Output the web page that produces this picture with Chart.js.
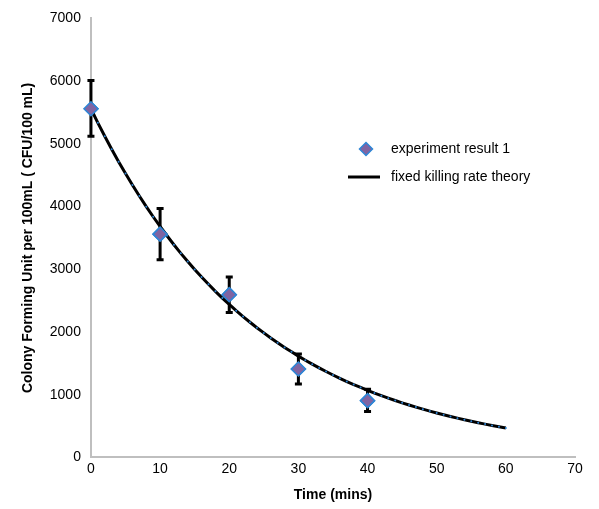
<!DOCTYPE html>
<html>
<head>
<meta charset="utf-8">
<script src="https://cdn.jsdelivr.net/npm/chart.js@4"></script>
<style>
  html, body { margin: 0; padding: 0; background: #fff; }
  #wrap { width: 599px; height: 509px; }
</style>
</head>
<body>
<div id="wrap"><canvas id="myChart" width="599" height="509"></canvas></div>
<script>
// measured points (time in mins, CFU/100 mL)
const expTimes = [0, 10, 20, 30, 40];
const expValues = [5560, 3560, 2595, 1410, 905];
const expErrLow = [5120, 3150, 2310, 1170, 730];
const expErrHigh = [6010, 3970, 2875, 1650, 1085];

// theory curve, one value per minute
const theoryTimes = [
  0, 1, 2, 3, 4, 5, 6, 7, 8, 9, 10, 11, 12, 13, 14, 15, 16, 17, 18, 19, 20,
  21, 22, 23, 24, 25, 26, 27, 28, 29, 30, 31, 32, 33, 34, 35, 36, 37, 38, 39, 40,
  41, 42, 43, 44, 45, 46, 47, 48, 49, 50, 51, 52, 53, 54, 55, 56, 57, 58, 59, 60
];
const theoryValues = [
  5560, 5335, 5120, 4913, 4715, 4525, 4342, 4167, 3998, 3837, 3682,
  3534, 3391, 3254, 3123, 2997, 2876, 2760, 2648, 2541, 2439,
  2340, 2246, 2155, 2068, 1985, 1904, 1828, 1754, 1683, 1615,
  1550, 1487, 1427, 1370, 1314, 1261, 1210, 1161, 1115, 1070,
  1026, 985, 945, 907, 870, 835, 802, 769, 738, 708,
  680, 652, 626, 601, 576, 553, 531, 509, 489, 469
];

const xTicks = [0, 10, 20, 30, 40, 50, 60, 70];
const yTicks = [0, 1000, 2000, 3000, 4000, 5000, 6000, 7000];
const seriesNames = ['experiment result 1', 'fixed killing rate theory'];

const FONT = 'Liberation Sans, Arial, sans-serif';

// error bars drawn through the scales
const errorBars = {
  id: 'errorBars',
  afterDatasetsDraw(chart) {
    const ctx = chart.ctx;
    const xs = chart.scales.x, ys = chart.scales.y;
    ctx.save();
    ctx.strokeStyle = '#000';
    ctx.lineWidth = 3;
    expTimes.forEach((t, i) => {
      const px = xs.getPixelForValue(t);
      const top = ys.getPixelForValue(expErrHigh[i]);
      const bot = ys.getPixelForValue(expErrLow[i]);
      ctx.beginPath();
      ctx.moveTo(px, top); ctx.lineTo(px, bot);
      ctx.moveTo(px - 3.5, top); ctx.lineTo(px + 3.5, top);
      ctx.moveTo(px - 3.5, bot); ctx.lineTo(px + 3.5, bot);
      ctx.stroke();
    });
    ctx.restore();
    // redraw markers on top of bars
    const meta = chart.getDatasetMeta(1);
    meta.data.forEach(el => el.draw(ctx));
  }
};

// legend inside the plot
const innerLegend = {
  id: 'innerLegend',
  afterDraw(chart) {
    const ctx = chart.ctx;
    ctx.save();
    ctx.font = '14px ' + FONT;
    ctx.fillStyle = '#000';
    ctx.textBaseline = 'middle';
    // diamond
    const dx = 366, dy = 149;
    ctx.beginPath();
    ctx.moveTo(dx, dy - 6.5); ctx.lineTo(dx + 6.5, dy); ctx.lineTo(dx, dy + 6.5); ctx.lineTo(dx - 6.5, dy); ctx.closePath();
    ctx.fillStyle = '#8064A2';
    ctx.fill();
    ctx.strokeStyle = '#2E86D6';
    ctx.lineWidth = 1.5;
    ctx.stroke();
    ctx.fillStyle = '#000';
    ctx.fillText(seriesNames[0], 391, dy);
    // line
    const ly = 177;
    ctx.beginPath();
    ctx.moveTo(348, ly); ctx.lineTo(380, ly);
    ctx.strokeStyle = '#000';
    ctx.lineWidth = 3;
    ctx.stroke();
    ctx.fillText(seriesNames[1], 391, ly);
    ctx.restore();
  }
};

const ctx = document.getElementById('myChart').getContext('2d');
const myChart = new Chart(ctx, {
  type: 'scatter',
  data: {
    datasets: [
      {
        label: seriesNames[1],
        type: 'line',
        data: theoryTimes.map((t, i) => ({ x: t, y: theoryValues[i] })),
        borderColor: '#000',
        borderWidth: 3,
        pointRadius: 1,
        pointBackgroundColor: '#2E86D6',
        pointBorderWidth: 0,
        showLine: true,
        fill: false,
        tension: 0
      },
      {
        label: seriesNames[0],
        data: expTimes.map((t, i) => ({ x: t, y: expValues[i] })),
        pointStyle: 'rectRot',
        pointRadius: 7,
        pointBackgroundColor: '#8064A2',
        pointBorderColor: '#2E86D6',
        pointBorderWidth: 1.5
      }
    ]
  },
  options: {
    responsive: false,
    animation: false,
    layout: { padding: { left: 16, right: 24, top: 10, bottom: 1 } },
    plugins: {
      legend: { display: false },
      tooltip: { enabled: false }
    },
    scales: {
      x: {
        type: 'linear',
        min: 0, max: 70,
        afterBuildTicks: axis => { axis.ticks = xTicks.map(v => ({ value: v })); },
        grid: { display: false, drawTicks: false },
        border: { color: '#BFBFBF', width: 2 },
        ticks: { color: '#000', font: { family: FONT, size: 14 }, padding: 3, callback: v => String(v) },
        title: { display: true, text: 'Time (mins)', color: '#000', font: { family: FONT, size: 14, weight: 'bold' }, padding: { top: 7 } }
      },
      y: {
        min: 0, max: 7000,
        afterBuildTicks: axis => { axis.ticks = yTicks.map(v => ({ value: v })); },
        grid: { display: false, drawTicks: false },
        border: { color: '#BFBFBF', width: 2 },
        ticks: { color: '#000', font: { family: FONT, size: 14 }, padding: 10, callback: v => String(v) },
        title: { display: true, text: 'Colony Forming Unit per 100mL ( CFU/100 mL)', color: '#000', font: { family: FONT, size: 14, weight: 'bold' }, padding: { bottom: 3 } }
      }
    }
  },
  plugins: [errorBars, innerLegend]
});
</script>
</body>
</html>
